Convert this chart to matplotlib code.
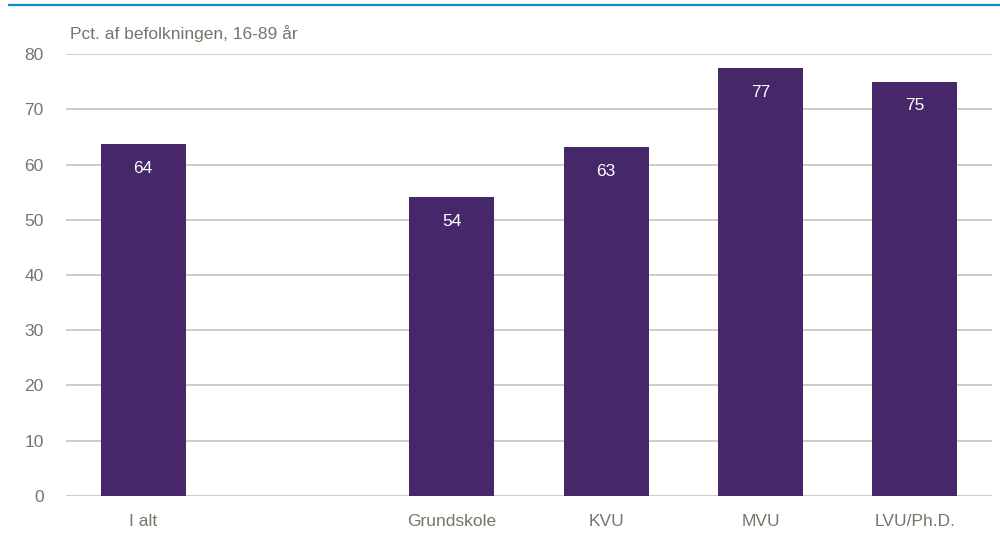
import numpy as np
import matplotlib.pyplot as plt
from matplotlib.lines import Line2D

# Data
categories = ["I alt", "", "Grundskole", "KVU", "MVU", "LVU/Ph.D."]
values = [63.7, np.nan, 54.1, 63.2, 77.4, 75.0]
labels = ["64", "", "54", "63", "77", "75"]

plt.rcParams['font.family'] = ['Liberation Sans Narrow', 'Liberation Sans', 'DejaVu Sans']

bar_color = "#45276a"
text_color = "#75756a"
grid_color = "#c6c6ba"

fig = plt.figure(figsize=(10, 5.35), dpi=100)
ax = fig.add_axes([0.066, 0.073, 0.926, 0.826])

x = np.arange(len(categories))
ax.bar(x, values, width=0.55, color=bar_color, zorder=3)

# value labels inside the bars, near the top
for xi, v, lab in zip(x, values, labels):
    if lab:
        ax.text(xi, v - 4.4, lab, ha="center", va="center", color="white", fontsize=12.5)

ax.set_xlim(-0.5, len(categories) - 0.5)
ax.set_ylim(0, 80)
ax.set_yticks(np.arange(0, 81, 10))
ax.set_xticks(x)
ax.set_xticklabels(categories)
ax.yaxis.grid(True, color=grid_color, linewidth=1.2, zorder=0)
ax.tick_params(axis="both", length=0, labelsize=12.5, colors=text_color)
ax.tick_params(axis="y", pad=16)
ax.tick_params(axis="x", pad=13)
for s in ax.spines.values():
    s.set_visible(False)

fig.text(0.070, 0.938, "Pct. af befolkningen, 16-89 år", color=text_color,
         fontsize=12.5, ha="left", va="center")

# blue rule at the top
fig.add_artist(Line2D([0.009, 1.0], [0.9915, 0.9915], color="#0b8bd0", linewidth=1.6))

fig.savefig("out.png", dpi=100)
